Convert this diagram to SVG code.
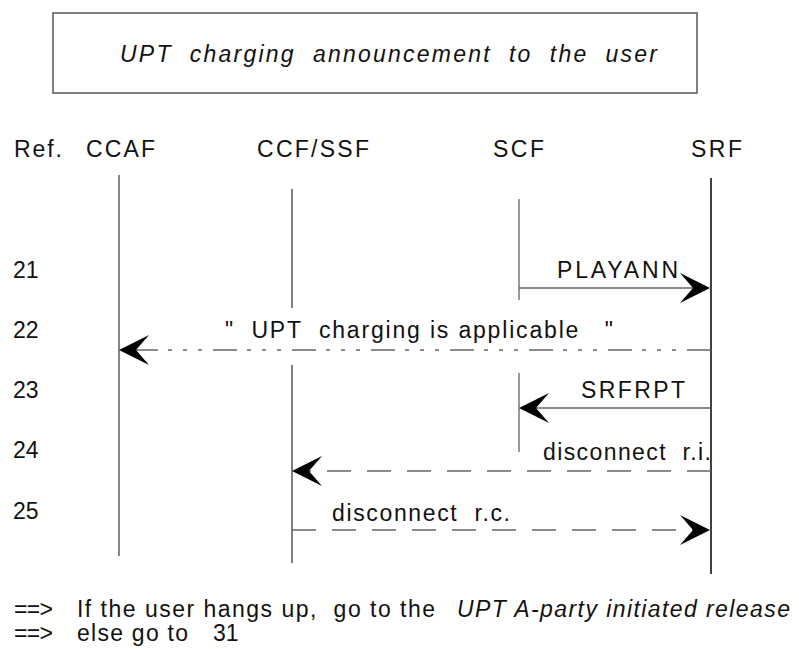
<svg xmlns="http://www.w3.org/2000/svg" width="799" height="649" viewBox="0 0 799 649" xml:space="preserve">
<style>
text{font-family:"Liberation Sans",Arial,sans-serif;font-size:23px;fill:#111;white-space:pre}
.it{font-style:italic}
.life{fill:none}
.msg{fill:none;stroke:#666;stroke-width:1.5}
.dd{stroke-dasharray:24 11 4 11 4 11 4 10}
.ds{stroke-dasharray:24 16}
.head{fill:#000}
</style>
<defs>
<path id="ah" d="M0,0 L-30,-15 L-17,0 L-30,15 Z"/>
</defs>
<rect width="799" height="649" fill="#fff"/>
<g id="title">
<rect x="53" y="13" width="644" height="80" fill="none" stroke="#555" stroke-width="1.5"/>
<text class="it" x="120" y="62" textLength="537" lengthAdjust="spacing">UPT  charging  announcement  to  the  user</text>
</g>
<g id="ref"><text x="14" y="157" textLength="48" lengthAdjust="spacing">Ref.</text>
<text x="13" y="278">21</text><text x="13" y="338">22</text><text x="13" y="398">23</text><text x="13" y="458">24</text><text x="13" y="519">25</text></g>
<g id="ccaf"><text x="86" y="157" textLength="69" lengthAdjust="spacing">CCAF</text>
<line class="life" x1="119" y1="175" x2="119" y2="556" stroke="#888" stroke-width="2"/></g>
<g id="ccfssf"><text x="257" y="157" textLength="112" lengthAdjust="spacing">CCF/SSF</text>
<line class="life" x1="292" y1="189" x2="292" y2="308" stroke="#000" stroke-width="1"/>
<line class="life" x1="292" y1="365" x2="292" y2="563" stroke="#000" stroke-width="1"/></g>
<g id="scf"><text x="493" y="157" textLength="51" lengthAdjust="spacing">SCF</text>
<line class="life" x1="519" y1="199" x2="519" y2="300" stroke="#777" stroke-width="1.5"/>
<line class="life" x1="519" y1="373" x2="519" y2="452" stroke="#777" stroke-width="1.5"/></g>
<g id="srf"><text x="691" y="157" textLength="51" lengthAdjust="spacing">SRF</text>
<line class="life" x1="711" y1="178" x2="711" y2="574" stroke="#000" stroke-width="1.5"/></g>
<g id="connectors">
<line class="msg" x1="519" y1="288" x2="693" y2="288"/>
<use href="#ah" class="head" transform="translate(710,288)"/>
<text x="557" y="278" textLength="121" lengthAdjust="spacing">PLAYANN</text>
<line class="msg dd" x1="711" y1="350" x2="136" y2="350" stroke="#222"/>
<use href="#ah" class="head" transform="translate(119,350) rotate(180)"/>
<text x="225" y="338" textLength="388" lengthAdjust="spacing">"  UPT  charging is applicable   "</text>
<line class="msg" x1="711" y1="408" x2="536" y2="408"/>
<use href="#ah" class="head" transform="translate(519,408) rotate(180)"/>
<text x="581" y="398" textLength="104" lengthAdjust="spacing">SRFRPT</text>
<line class="msg ds" x1="711" y1="471" x2="309" y2="471"/>
<use href="#ah" class="head" transform="translate(292,471) rotate(180)"/>
<text x="543" y="460" textLength="168" lengthAdjust="spacing">disconnect  r.i.</text>
<line class="msg ds" x1="292" y1="530" x2="693" y2="530"/>
<use href="#ah" class="head" transform="translate(710,530)"/>
<text x="332" y="521" textLength="178" lengthAdjust="spacing">disconnect  r.c.</text>
</g>
<g id="footer">
<text x="14" y="617" textLength="39" lengthAdjust="spacing">==&gt;</text>
<text x="77" y="617" textLength="358" lengthAdjust="spacing">If the user hangs up,  go to the</text>
<text class="it" x="457" y="617" textLength="333" lengthAdjust="spacing">UPT A-party initiated release</text>
<text x="14" y="641" textLength="39" lengthAdjust="spacing">==&gt;</text>
<text x="77" y="641" textLength="111" lengthAdjust="spacing">else go to</text>
<text x="213" y="641">31</text>
</g>
</svg>
